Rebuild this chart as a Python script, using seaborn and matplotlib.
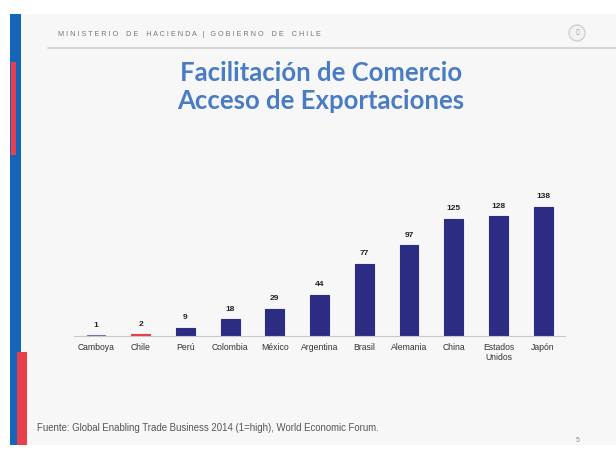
import numpy as np
import pandas as pd
import matplotlib
matplotlib.use('Agg')
import matplotlib.pyplot as plt
import seaborn as sns
from matplotlib.patches import Rectangle, Circle
from matplotlib.lines import Line2D

sns.set_style('white')
plt.rcParams['font.family'] = ['Liberation Sans', 'DejaVu Sans']

paises = ['Camboya', 'Chile', 'Perú', 'Colombia', 'México', 'Argentina',
          'Brasil', 'Alemania', 'China', 'Estados\nUnidos', 'Japón']
ranking = [1, 2, 9, 18, 29, 44, 77, 97, 125, 128, 138]
navy = '#2b2c82'
colores = ['#6f70b8', '#e0404a'] + [navy] * 9

df = pd.DataFrame({'pais': paises, 'rank': ranking})

fig = plt.figure(figsize=(6.16, 4.5), dpi=100)
fig.patch.set_facecolor('white')

# slide background + side bars
bg = fig.add_axes([0, 0, 1, 1])
bg.set_xlim(0, 616)
bg.set_ylim(450, 0)
bg.axis('off')
bg.add_patch(Rectangle((10, 14), 606, 431, facecolor='#f7f7f7', edgecolor='none'))
bg.add_patch(Rectangle((10, 14), 11, 431, facecolor='#1565b8', edgecolor='none'))
bg.add_patch(Rectangle((11, 62), 5, 93, facecolor='#e8404c', edgecolor='none'))
bg.add_patch(Rectangle((17, 352), 10, 93, facecolor='#e8404c', edgecolor='none'))
bg.add_line(Line2D([48, 616], [48, 48], color='#cfcfcf', lw=1.2))
bg.add_patch(Circle((577, 33), 8, facecolor='#f2f2f2', edgecolor='#d0d0d0', lw=1))
bg.text(577, 33, '▯', fontsize=5, ha='center', va='center', color='#999999')
bg.text(58, 35, 'M I N I S T E R I O    D E    H A C I E N D A   |   G O B I E R N O    D E    C H I L E',
        fontsize=5.2, color='#777777', va='center')
bg.text(321, 73, 'Facilitación de Comercio', fontsize=18.5, fontweight='bold',
        family=['Lato', 'DejaVu Sans'], color='#4a7cc4', ha='center', va='center')
bg.text(321, 101, 'Acceso de Exportaciones', fontsize=18.5, fontweight='bold',
        family=['Lato', 'DejaVu Sans'], color='#4a7cc4', ha='center', va='center')
bg.text(37, 428, 'Fuente: Global Enabling Trade Business 2014 (1=high), World Economic Forum.',
        fontsize=6.9, color='#555555', va='center')
bg.text(578, 440, '5', fontsize=5, color='#888888', ha='center', va='center')

# chart
ax = fig.add_axes([0.1195, 0.2533, 0.7985, 0.333])
sns.barplot(data=df, x='pais', y='rank', hue='pais', palette=colores,
            width=0.42, saturation=1, legend=False, ax=ax)
for bar, c in zip(ax.patches, colores):
    bar.set_edgecolor(c)
    bar.set_linewidth(0.8)
ax.set_facecolor('none')
ax.set_xlim(-0.5, 10.5)
ax.set_ylim(0, 160)
ax.set_xlabel('')
ax.set_ylabel('')
ax.set_yticks([])
for s in ['top', 'right', 'left']:
    ax.spines[s].set_visible(False)
ax.spines['bottom'].set_color('#c8c8c8')
ax.spines['bottom'].set_linewidth(0.8)
ax.tick_params(axis='x', length=0, labelsize=6.2, labelcolor='#333333', pad=5)
for i, v in enumerate(ranking):
    ax.text(i, v + 7, str(v), ha='center', va='bottom', fontsize=6,
            fontweight='bold', color='#222222')

fig.savefig('out.png', dpi=100)
